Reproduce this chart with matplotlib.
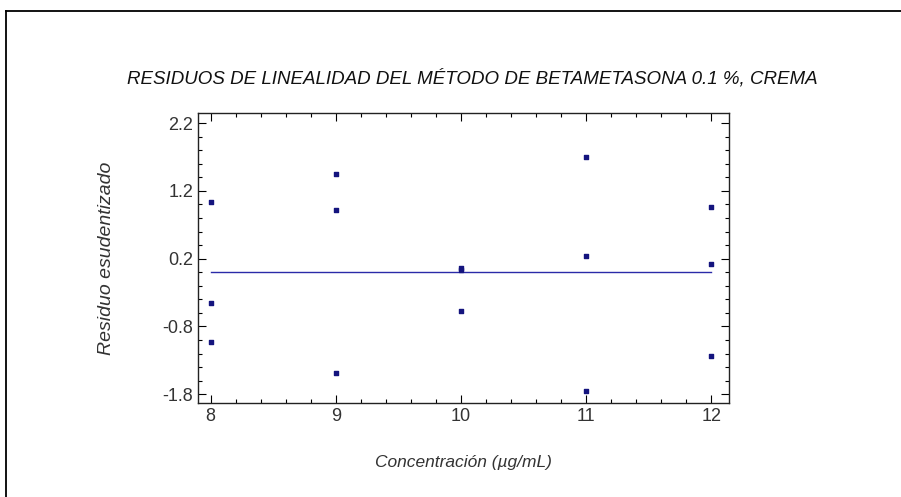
import numpy as np
import matplotlib
matplotlib.use("Agg")
import matplotlib.pyplot as plt
from matplotlib.lines import Line2D
from matplotlib.ticker import MultipleLocator, FixedLocator

plt.rcParams['font.family'] = ['Liberation Sans', 'DejaVu Sans']

# concentraciones y residuos estudentizados
conc = [8, 8, 8, 9, 9, 9, 10, 10, 10, 11, 11, 11, 12, 12, 12]
residuo = [1.03, -0.46, -1.03, 1.45, 0.92, -1.48, 0.06, 0.03, -0.57,
           1.70, 0.24, -1.75, 0.96, 0.12, -1.24]
x_ticks = [8, 9, 10, 11, 12]
y_ticks = [-1.8, -0.8, 0.2, 1.2, 2.2]

fig = plt.figure(figsize=(9.01, 4.97), dpi=100)
ax = fig.add_axes([0.2198, 0.1891, 0.589, 0.5835])

# linea de residuo cero
ax.plot([min(conc), max(conc)], [0, 0], color='#2a2aa8', lw=1)
ax.scatter(conc, residuo, marker='s', s=12, color='#14147e', zorder=3)

ax.set_xlim(7.9, 12.14)
ax.set_ylim(-1.93, 2.35)
ax.xaxis.set_major_locator(FixedLocator(x_ticks))
ax.xaxis.set_minor_locator(MultipleLocator(0.2))
ax.yaxis.set_major_locator(FixedLocator(y_ticks))
ax.set_yticklabels([f"{v:.1f}" for v in y_ticks])
ax.yaxis.set_minor_locator(FixedLocator(np.arange(-1.8, 2.3, 0.2)))
ax.tick_params(which='both', direction='in', top=True, right=True,
               labelsize=13, labelcolor='#333333', width=0.8)
ax.tick_params(which='major', length=6)
ax.tick_params(which='minor', length=3)
for s in ax.spines.values():
    s.set_linewidth(1.0)
    s.set_color('#222222')

ax.set_xlabel('Concentración (µg/mL)', style='italic', fontsize=12.5,
              color='#333333', labelpad=22)
ax.set_ylabel('Residuo esudentizado', style='italic', fontsize=14,
              color='#333333', labelpad=34)
fig.text(0.524, 0.843, 'RESIDUOS DE LINEALIDAD DEL MÉTODO DE BETAMETASONA 0.1 %, CREMA',
         ha='center', va='center', style='italic', fontsize=13.5, color='#111111')

# marco exterior
fig.add_artist(Line2D([0.0067, 0.0067], [0.978, -0.1], color='black', lw=1.3))
fig.add_artist(Line2D([0.0067, 1.1], [0.978, 0.978], color='black', lw=1.3))

fig.savefig('out.png', dpi=100)
